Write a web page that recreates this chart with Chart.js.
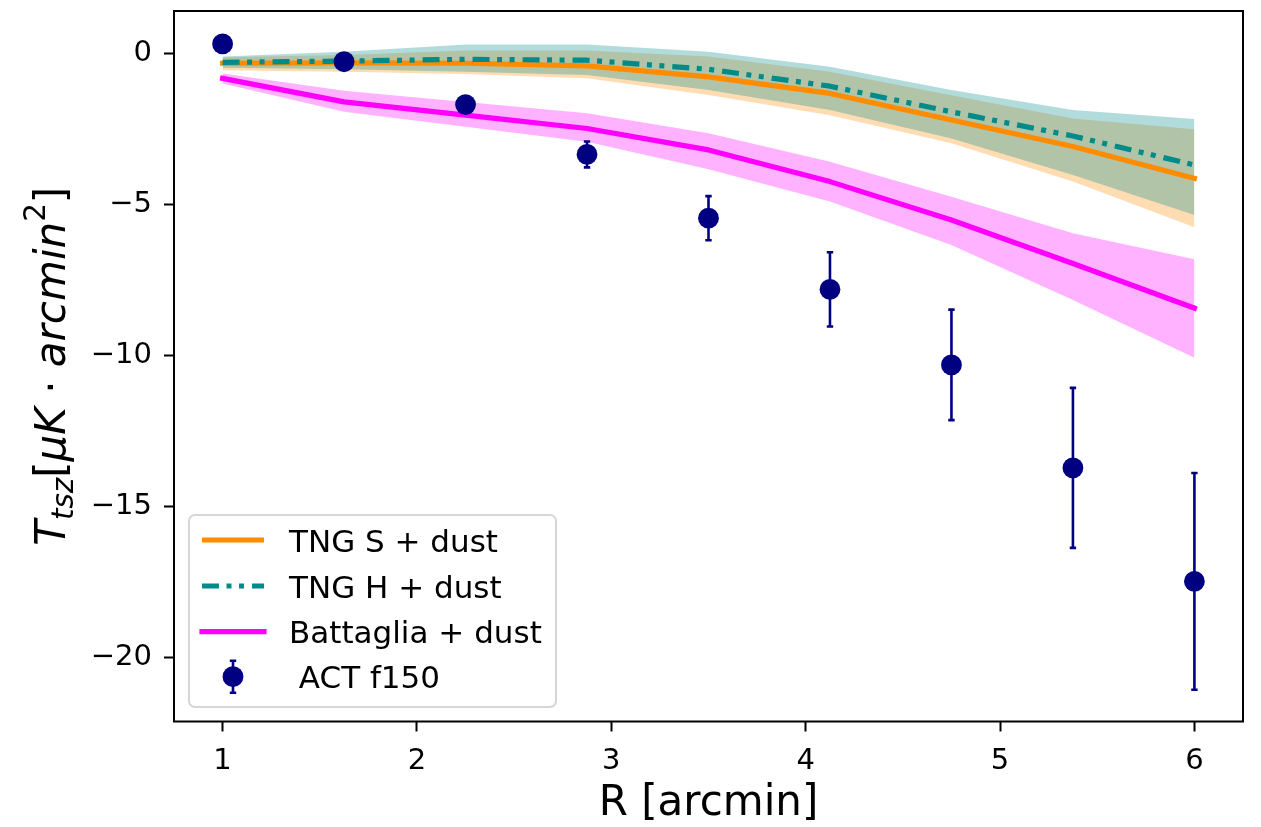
<!DOCTYPE html>
<html>
<head>
<meta charset="utf-8">
<script src="https://cdn.jsdelivr.net/npm/chart.js@4/dist/chart.umd.min.js"></script>
<style>
html,body{margin:0;padding:0;background:#fff;}
#wrap{position:relative;width:1261px;height:827px;}
</style>
</head>
<body>
<div id="wrap"><canvas id="c" width="1261" height="827"></canvas></div>
<script>
// ---- data ----
const xValues = [1, 1.625, 2.25, 2.875, 3.5, 4.125, 4.75, 5.375, 6];
const actValues = [0.32, -0.27, -1.69, -3.34, -5.45, -7.81, -10.31, -13.72, -17.48];
const actErrors = [0.15, 0.15, 0.25, 0.43, 0.73, 1.23, 1.83, 2.65, 3.59];
const tngS = [-0.32, -0.31, -0.32, -0.41, -0.77, -1.32, -2.2, -3.08, -4.13];
const tngSUpper = [-0.12, -0.05, 0.1, 0.1, -0.1, -0.6, -1.38, -2.15, -2.51];
const tngSLower = [-0.55, -0.6, -0.68, -0.82, -1.37, -2.04, -2.97, -4.24, -5.75];
const tngH = [-0.29, -0.25, -0.19, -0.22, -0.52, -1.08, -1.93, -2.73, -3.69];
const tngHUpper = [-0.1, 0.06, 0.3, 0.3, 0.06, -0.44, -1.21, -1.87, -2.17];
const tngHLower = [-0.47, -0.52, -0.6, -0.71, -1.21, -1.87, -2.81, -4.02, -5.35];
const battaglia = [-0.82, -1.6, -2.04, -2.48, -3.19, -4.24, -5.51, -6.95, -8.43];
const battagliaUpper = [-0.66, -1.23, -1.6, -1.98, -2.64, -3.58, -4.74, -5.95, -6.81];
const battagliaLower = [-0.99, -1.93, -2.42, -2.92, -3.83, -4.9, -6.34, -8.16, -10.07];
const xTicks = [1, 2, 3, 4, 5, 6];
const yTicks = [-20, -15, -10, -5, 0];
const seriesLabels = ['TNG S + dust', 'TNG H + dust', 'Battaglia + dust', ' ACT f150'];
const xTitle = 'R [arcmin]';

// ---- styles ----
const FONT = "'DejaVu Sans', sans-serif";
const C_ORANGE = '#ff8c00', C_TEAL = '#008b8b', C_MAG = '#ff00ff', C_NAVY = '#000080';
const LW = 5.2;
const DASH = [17, 7.5, 5, 7.5, 5, 8];

const pts = arr => xValues.map((x, i) => ({x: x, y: arr[i]}));
const bandLine = (arr, order) => ({data: pts(arr), borderColor: 'transparent', borderWidth: 0, pointRadius: 0, fill: false, order: order});
const bandFill = (arr, color, order) => ({data: pts(arr), borderColor: 'transparent', borderWidth: 0, pointRadius: 0, fill: '-1', backgroundColor: color, order: order});

const errorBars = {
  id: 'errorBars',
  afterDatasetsDraw(chart) {
    const ctx = chart.ctx, xs = chart.scales.x, ys = chart.scales.y, a = chart.chartArea;
    ctx.save();
    ctx.beginPath(); ctx.rect(a.left, a.top, a.right - a.left, a.bottom - a.top); ctx.clip();
    ctx.strokeStyle = C_NAVY; ctx.lineWidth = 2.6; ctx.lineCap = 'butt';
    for (let i = 0; i < xValues.length; i++) {
      const px = xs.getPixelForValue(xValues[i]);
      const t = ys.getPixelForValue(actValues[i] + actErrors[i]);
      const b = ys.getPixelForValue(actValues[i] - actErrors[i]);
      ctx.beginPath(); ctx.moveTo(px, t); ctx.lineTo(px, b);
      ctx.moveTo(px - 3.2, t); ctx.lineTo(px + 3.2, t);
      ctx.moveTo(px - 3.2, b); ctx.lineTo(px + 3.2, b);
      ctx.stroke();
    }
    ctx.restore();
  }
};

const decorations = {
  id: 'decorations',
  afterDraw(chart) {
    const ctx = chart.ctx, a = chart.chartArea;
    ctx.save();
    // frame
    ctx.strokeStyle = '#000'; ctx.lineWidth = 2;
    ctx.strokeRect(a.left, a.top, a.right - a.left, a.bottom - a.top);

    // legend
    const L = a.left + 15, T = a.top + 504, W = 367, H = 192, r = 6;
    ctx.beginPath();
    ctx.moveTo(L + r, T); ctx.lineTo(L + W - r, T); ctx.arcTo(L + W, T, L + W, T + r, r);
    ctx.lineTo(L + W, T + H - r); ctx.arcTo(L + W, T + H, L + W - r, T + H, r);
    ctx.lineTo(L + r, T + H); ctx.arcTo(L, T + H, L, T + H - r, r);
    ctx.lineTo(L, T + r); ctx.arcTo(L, T, L + r, T, r); ctx.closePath();
    ctx.fillStyle = 'rgba(255,255,255,0.8)'; ctx.fill();
    ctx.strokeStyle = 'rgba(204,204,204,0.8)'; ctx.lineWidth = 2; ctx.stroke();

    const rowY = [T + 25, T + 71, T + 116.7, T + 161.7];
    const hx0 = L + 13, hx1 = L + 75, tx = L + 100;
    ctx.lineWidth = LW;
    // TNG S
    ctx.strokeStyle = C_ORANGE; ctx.lineCap = 'butt'; ctx.setLineDash([]);
    ctx.beginPath(); ctx.moveTo(hx0, rowY[0]); ctx.lineTo(hx1, rowY[0]); ctx.stroke();
    // TNG H
    ctx.strokeStyle = C_TEAL; ctx.setLineDash(DASH);
    ctx.beginPath(); ctx.moveTo(hx0, rowY[1]); ctx.lineTo(hx1, rowY[1]); ctx.stroke();
    ctx.setLineDash([]);
    // Battaglia
    ctx.strokeStyle = C_MAG; ctx.lineCap = 'square';
    ctx.beginPath(); ctx.moveTo(hx0, rowY[2]); ctx.lineTo(hx1, rowY[2]); ctx.stroke();
    // ACT marker
    const mx = (hx0 + hx1) / 2;
    ctx.lineCap = 'butt'; ctx.strokeStyle = C_NAVY; ctx.lineWidth = 2.6;
    ctx.beginPath(); ctx.moveTo(mx, rowY[3] - 16); ctx.lineTo(mx, rowY[3] + 16);
    ctx.moveTo(mx - 3.2, rowY[3] - 16); ctx.lineTo(mx + 3.2, rowY[3] - 16);
    ctx.moveTo(mx - 3.2, rowY[3] + 16); ctx.lineTo(mx + 3.2, rowY[3] + 16);
    ctx.stroke();
    ctx.fillStyle = C_NAVY; ctx.beginPath(); ctx.arc(mx, rowY[3], 10.4, 0, Math.PI * 2); ctx.fill();

    ctx.fillStyle = '#000'; ctx.font = '31px ' + FONT; ctx.textBaseline = 'alphabetic'; ctx.textAlign = 'left';
    for (let i = 0; i < seriesLabels.length; i++) ctx.fillText(seriesLabels[i], tx, rowY[i] + 11.5);

    // y-axis title with sub/superscripts
    const size = 42;
    const pieces = [
      {t: 'T', it: true, s: 1, dy: 0},
      {t: 'tsz', it: true, s: 0.7, dy: 8},
      {t: '[', it: false, s: 1, dy: 0},
      {t: 'μK', it: true, s: 1, dy: 0},
      {t: ' · ', it: false, s: 1, dy: 0},
      {t: 'arcmin', it: true, s: 1, dy: 0},
      {t: '2', it: false, s: 0.7, dy: -20},
      {t: ']', it: false, s: 1, dy: 0}
    ];
    const fontFor = p => (p.it ? 'italic ' : '') + (size * p.s) + 'px ' + FONT;
    let total = 0;
    pieces.forEach(p => { ctx.font = fontFor(p); p.w = ctx.measureText(p.t).width; total += p.w; });
    ctx.translate(65, (a.top + a.bottom) / 2);
    ctx.rotate(-Math.PI / 2);
    let cx = -total / 2;
    pieces.forEach(p => { ctx.font = fontFor(p); ctx.fillText(p.t, cx, p.dy); cx += p.w; });
    ctx.restore();
  }
};

const fmt = v => String(v).replace('-', '\u2212');

new Chart(document.getElementById('c'), {
  type: 'line',
  data: {
    datasets: [
      {label: seriesLabels[3], data: pts(actValues), showLine: false, pointRadius: 10.4, pointHoverRadius: 10.4,
       pointBackgroundColor: C_NAVY, pointBorderColor: C_NAVY, pointBorderWidth: 0, order: 0},
      {label: seriesLabels[2], data: pts(battaglia), borderColor: C_MAG, borderWidth: LW, pointRadius: 0, fill: false,
       borderCapStyle: 'square', borderJoinStyle: 'round', order: 1},
      {label: seriesLabels[1], data: pts(tngH), borderColor: C_TEAL, borderWidth: LW, pointRadius: 0, fill: false,
       borderDash: DASH, borderCapStyle: 'butt', borderJoinStyle: 'round', order: 2},
      {label: seriesLabels[0], data: pts(tngS), borderColor: C_ORANGE, borderWidth: LW, pointRadius: 0, fill: false,
       borderCapStyle: 'square', borderJoinStyle: 'round', order: 3},
      bandLine(battagliaUpper, 10), bandFill(battagliaLower, 'rgba(255,0,255,0.3)', 10),
      bandLine(tngHUpper, 11), bandFill(tngHLower, 'rgba(0,139,139,0.3)', 11),
      bandLine(tngSUpper, 12), bandFill(tngSLower, 'rgba(255,140,0,0.3)', 12)
    ]
  },
  options: {
    responsive: false,
    animation: false,
    events: [],
    layout: {padding: {top: 11, right: 18, left: 0, bottom: 0}},
    elements: {line: {tension: 0}},
    plugins: {
      legend: {display: false},
      tooltip: {enabled: false},
      filler: {drawTime: 'beforeDatasetsDraw', propagate: false}
    },
    scales: {
      x: {
        type: 'linear', min: 0.75, max: 6.25,
        afterBuildTicks: s => { s.ticks = xTicks.map(v => ({value: v})); },
        afterFit: s => { s.height = 105.5; s.paddingLeft = 0; s.paddingRight = 0; },
        grid: {display: true, drawOnChartArea: false, drawTicks: true, tickLength: 10, tickWidth: 2, tickColor: '#000'},
        border: {display: false},
        ticks: {color: '#000', font: {family: FONT, size: 29}, padding: 13, maxRotation: 0, callback: v => fmt(v)},
        title: {display: true, text: xTitle, color: '#000', font: {family: FONT, size: 42, lineHeight: 1.07}, padding: {top: 0, bottom: 0}}
      },
      y: {
        type: 'linear', min: -22.12, max: 1.41,
        afterBuildTicks: s => { s.ticks = yTicks.map(v => ({value: v})); },
        afterFit: s => { s.width = 174; s.paddingTop = 0; s.paddingBottom = 0; },
        grid: {display: true, drawOnChartArea: false, drawTicks: true, tickLength: 10, tickWidth: 2, tickColor: '#000'},
        border: {display: false},
        ticks: {color: '#000', font: {family: FONT, size: 29}, padding: 12, callback: v => fmt(v)}
      }
    }
  },
  plugins: [errorBars, decorations]
});
</script>
</body>
</html>
